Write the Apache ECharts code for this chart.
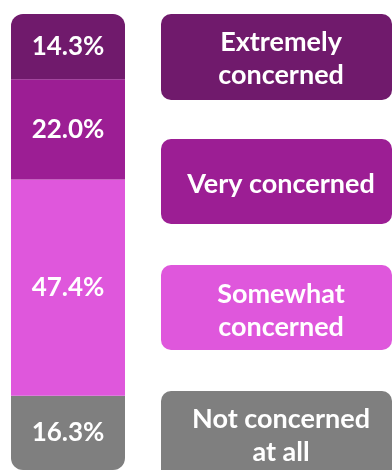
<!DOCTYPE html>
<html>
<head>
<meta charset="utf-8">
<script src="https://cdn.jsdelivr.net/npm/echarts@6/dist/echarts.min.js"></script>
<style>
  html, body { margin: 0; padding: 0; background: #fff; }
  #chart { width: 392px; height: 470px; }
</style>
</head>
<body>
<div id="chart"></div>
<script>
// Level of concern, share of respondents (%), top of the bar first
const categories = ['Extremely\nconcerned', 'Very concerned', 'Somewhat\nconcerned', 'Not concerned\nat all'];
const values = [14.3, 22.0, 47.4, 16.3];
const colors = ['#701A6C', '#9C1E94', '#DF57DC', '#7F7F7F'];

const FONT = 'Lato, "Open Sans", sans-serif';
const RADIUS = 12;

// Stack from the bottom up so the first category sits on top
const order = [3, 2, 1, 0];
const series = order.map((i, k) => {
  let br = 0;
  if (k === 0) br = [0, 0, RADIUS, RADIUS];
  if (k === order.length - 1) br = [RADIUS, RADIUS, 0, 0];
  return {
    name: categories[i],
    type: 'bar',
    stack: 'total',
    barWidth: '100%',
    data: [values[i]],
    itemStyle: { color: colors[i], borderRadius: br },
    label: {
      show: true,
      position: 'inside',
      formatter: p => p.value.toFixed(1) + '%',
      color: '#fff',
      fontFamily: FONT,
      fontWeight: 'bold',
      fontSize: 26
    }
  };
});

// Key boxes to the right of the bar
const boxes = [
  { top: 14, height: 86, dy: 2 },
  { top: 139, height: 85, dy: 3 },
  { top: 265, height: 85, dy: 3 },
  { top: 391, height: 90, dy: 0 }
];
const graphic = categories.map((name, i) => ({
  type: 'group',
  left: 161,
  top: boxes[i].top,
  children: [
    {
      type: 'rect',
      shape: { x: 0, y: 0, width: 231, height: boxes[i].height, r: 10 },
      style: { fill: colors[i] }
    },
    {
      type: 'text',
      x: 120,
      y: boxes[i].height / 2 + boxes[i].dy,
      style: {
        text: name,
        fill: '#fff',
        font: 'bold 27px ' + FONT,
        lineHeight: 33,
        align: 'center',
        verticalAlign: 'middle'
      }
    }
  ]
}));

const chart = echarts.init(document.getElementById('chart'), null, { renderer: 'canvas' });
chart.setOption({
  animation: false,
  grid: { left: 11, top: 14, width: 114, bottom: 0, containLabel: false },
  xAxis: {
    type: 'category',
    data: ['Concern'],
    show: false
  },
  yAxis: {
    type: 'value',
    min: 0,
    max: 100,
    show: false
  },
  series: series,
  graphic: graphic
});
</script>
</body>
</html>
